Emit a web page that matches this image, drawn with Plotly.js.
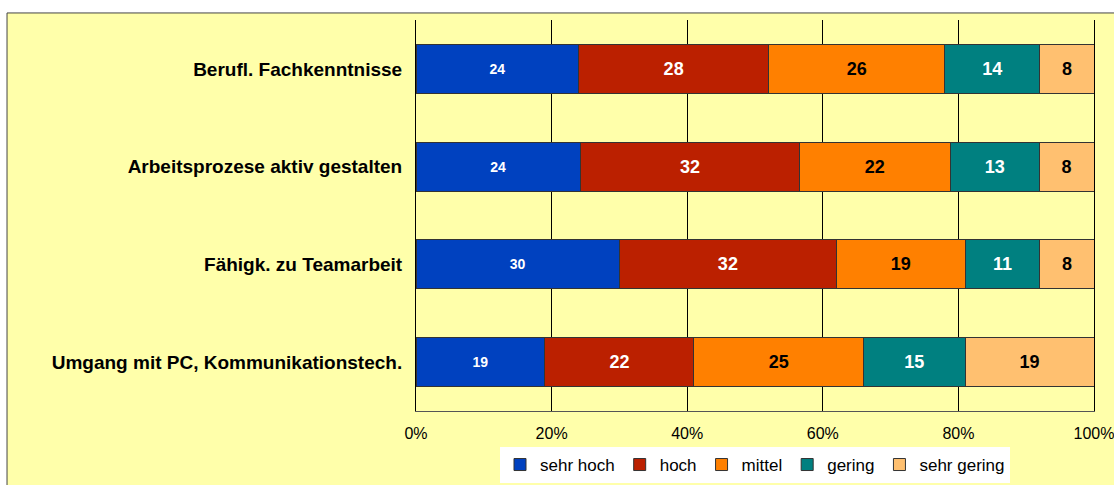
<!DOCTYPE html>
<html>
<head>
<meta charset="utf-8">
<script src="https://cdn.plot.ly/plotly-3.0.1.min.js"></script>
<style>html,body{margin:0;padding:0;background:#fff;}#chart{width:1114px;height:485px;}</style>
</head>
<body>
<div id="chart"></div>
<script>
var categories = ["Berufl. Fachkenntnisse", "Arbeitsprozese aktiv gestalten", "Fähigk. zu Teamarbeit", "Umgang mit PC, Kommunikationstech."];
var seriesNames = ["sehr hoch", "hoch", "mittel", "gering", "sehr gering"];
var sehrHoch = [24, 24, 30, 19];
var hoch = [28, 32, 32, 22];
var mittel = [26, 22, 19, 25];
var gering = [14, 13, 11, 15];
var sehrGering = [8, 8, 8, 19];
var tickVals = [0, 20, 40, 60, 80, 100];
var tickLabels = ["0%", "20%", "40%", "60%", "80%", "100%"];

var seriesValues = [sehrHoch, hoch, mittel, gering, sehrGering];
var colors = ["#0041BF", "#BB2000", "#FF8000", "#008080", "#FFC070"];
var textColors = ["#ffffff", "#ffffff", "#000000", "#ffffff", "#000000"];
var textSizes = [14, 18, 18, 18, 18];

var traces = seriesValues.map(function (vals, i) {
  return {
    type: "bar",
    orientation: "h",
    name: seriesNames[i],
    y: categories,
    x: vals,
    text: vals.map(String),
    texttemplate: "%{text}",
    textposition: "inside",
    insidetextanchor: "middle",
    constraintext: "none",
    textangle: 0,
    textfont: {family: "Liberation Sans, Arial, sans-serif", size: textSizes[i], color: textColors[i], weight: "bold"},
    marker: {color: colors[i], line: {color: "#333333", width: 1}},
    hoverinfo: "skip"
  };
});

var layout = {
  width: 1114,
  height: 485,
  barmode: "stack",
  barnorm: "percent",
  bargap: 0.5,
  paper_bgcolor: "#ffffff",
  plot_bgcolor: "rgba(0,0,0,0)",
  margin: {l: 416, r: 20, t: 20, b: 74, pad: 0, autoexpand: false},
  font: {family: "Liberation Sans, Arial, sans-serif", color: "#000000"},
  showlegend: true,
  legend: {
    orientation: "h",
    x: 0.5, xanchor: "center",
    y: -0.092, yanchor: "top",
    bgcolor: "#ffffff",
    font: {size: 17, color: "#000000"},
    traceorder: "normal",
    itemwidth: 30,
    tracegroupgap: 0
  },
  xaxis: {
    range: [0, 100],
    tickvals: tickVals,
    ticktext: tickLabels,
    showgrid: true,
    gridcolor: "#000000",
    gridwidth: 1,
    zeroline: false,
    showline: true,
    linecolor: "#555555",
    linewidth: 1,
    ticks: "",
    ticklabelstandoff: 8,
    ticklabeloverflow: "allow",
    tickfont: {size: 16, color: "#000000"},
    fixedrange: true
  },
  yaxis: {
    type: "category",
    autorange: "reversed",
    showgrid: false,
    zeroline: false,
    showline: true,
    mirror: true,
    linecolor: "#000000",
    linewidth: 1,
    ticks: "",
    ticklabelstandoff: 9,
    tickfont: {size: 19, color: "#000000", weight: "bold"},
    fixedrange: true
  },
  shapes: [{
    type: "rect",
    xref: "paper", yref: "paper",
    x0: -0.6032, x1: 1.04,
    y0: -0.3, y1: 1.018,
    fillcolor: "#FFFFAA",
    line: {color: "#444444", width: 1},
    layer: "below"
  }]
};

Plotly.newPlot("chart", traces, layout, {displayModeBar: false, staticPlot: true});
</script>
</body>
</html>
